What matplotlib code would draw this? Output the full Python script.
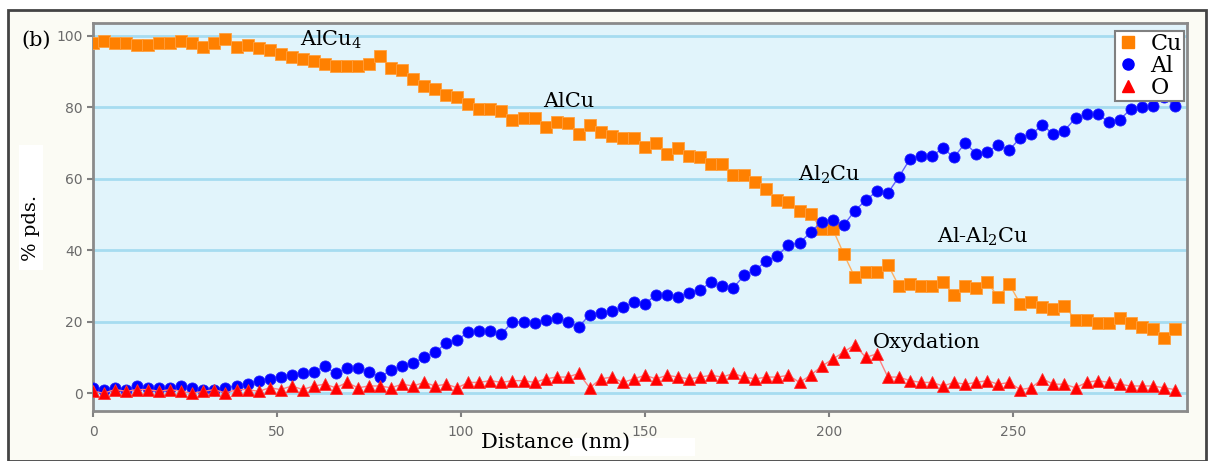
import numpy as np
import matplotlib
matplotlib.use("Agg")
import matplotlib.pyplot as plt
from matplotlib.patches import Rectangle
from matplotlib.lines import Line2D

# Profil EDS le long de la ligne (distance en nm, % pds.)
distance = [0, 3, 6, 9, 12, 15, 18, 21, 24, 27,
            30, 33, 36, 39, 42, 45, 48, 51, 54, 57,
            60, 63, 66, 69, 72, 75, 78, 81, 84, 87,
            90, 93, 96, 99, 102, 105, 108, 111, 114, 117,
            120, 123, 126, 129, 132, 135, 138, 141, 144, 147,
            150, 153, 156, 159, 162, 165, 168, 171, 174, 177,
            180, 183, 186, 189, 192, 195, 198, 201, 204, 207,
            210, 213, 216, 219, 222, 225, 228, 231, 234, 237,
            240, 243, 246, 249, 252, 255, 258, 261, 264, 267,
            270, 273, 276, 279, 282, 285, 288, 291, 294]

cu = [98, 98.5, 98, 98, 97.5, 97.5, 98, 98, 98.5, 98,
      97, 98, 99, 97, 97.5, 96.5, 96, 95, 94, 93.5,
      93, 92, 91.5, 91.5, 91.5, 92, 94.5, 91, 90.5, 88,
      86, 85, 83.5, 83, 81, 79.5, 79.5, 79, 76.5, 77,
      77, 74.5, 76, 75.5, 72.5, 75, 73, 72, 71.5, 71.5,
      69, 70, 67, 68.5, 66.5, 66, 64, 64, 61, 61,
      59, 57, 54, 53.5, 51, 50, 46, 46, 39, 32.5,
      34, 34, 36, 30, 30.5, 30, 30, 31, 27.5, 30,
      29.5, 31, 27, 30.5, 25, 25.5, 24, 23.5, 24.5, 20.5,
      20.5, 19.5, 19.5, 21, 19.5, 18.5, 18, 15.5, 18]

al = [1.5, 1, 1.5, 1, 2, 1.5, 1.5, 1.5, 2, 1.5,
      1, 1, 1.5, 2, 2.5, 3.5, 4, 4.5, 5, 5.5,
      6, 7.5, 5.5, 7, 7, 6, 4.5, 6.5, 7.5, 8.5,
      10, 11.5, 14, 15, 17, 17.5, 17.5, 16.5, 20, 20,
      19.5, 20.5, 21, 20, 18.5, 22, 22.5, 23, 24, 25.5,
      25, 27.5, 27.5, 27, 28, 29, 31, 30, 29.5, 33,
      34.5, 37, 38.5, 41.5, 42, 45, 48, 48.5, 47, 51,
      54, 56.5, 56, 60.5, 65.5, 66.5, 66.5, 68.5, 66, 70,
      67, 67.5, 69.5, 68, 71.5, 72.5, 75, 72.5, 73.5, 77,
      78, 78, 76, 76.5, 79.5, 80, 80.5, 83, 80.5]

ox = [0.5, 0, 1, 0.5, 1, 1, 0.5, 1, 0.5, 0,
      0.5, 1, 0, 1, 1, 0.5, 1.5, 1, 2, 1,
      2, 2.5, 1.5, 3, 1.5, 2, 2, 1.5, 2.5, 2,
      3, 2, 2.5, 1.5, 3, 3, 3.5, 3, 3.5, 3.5,
      3, 4, 4.5, 4.5, 5.5, 1.5, 4, 4.5, 3, 4,
      5, 4, 5, 4.5, 4, 4.5, 5, 4.5, 5.5, 4.5,
      4, 4.5, 4.5, 5, 3, 5, 7.5, 9.5, 11.5, 13.5,
      10, 11, 4.5, 4.5, 3.5, 3, 3, 2, 3, 2.5,
      3, 3.5, 2.5, 3, 1, 1.5, 4, 2.5, 2.5, 1.5,
      3, 3.5, 3, 2.5, 2, 2, 2, 1.5, 1]

series_names = ['Cu', 'Al', 'O']
phase_labels = ['AlCu$_4$', 'AlCu', 'Al$_2$Cu', 'Al-Al$_2$Cu', 'Oxydation']
phase_x = [56.3, 122.3, 191.6, 229.3, 212]
phase_y = [97.3, 80, 59.6, 42.2, 12.6]

plt.rcParams['mathtext.fontset'] = 'dejavuserif'
W, H = 1214, 461
fig = plt.figure(figsize=(W / 100, H / 100), dpi=100, facecolor='white')

# cadre exterieur et taches blanches de l'image d'origine
fig.add_artist(Rectangle((8 / W, 0), 1198 / W, 1 - 10 / H, transform=fig.transFigure,
                         facecolor='#fbfbf4', edgecolor='#444444', linewidth=2, zorder=-10))
fig.add_artist(Rectangle((19 / W, 1 - 270 / H), 24 / W, 125 / H, transform=fig.transFigure,
                         facecolor='white', edgecolor='none', zorder=-5))
fig.add_artist(Rectangle((570 / W, 1 - 456 / H), 125 / W, 18 / H, transform=fig.transFigure,
                         facecolor='white', edgecolor='none', zorder=-5))

ax = fig.add_axes([93 / W, 1 - 411 / H, (1187 - 93) / W, (411 - 23) / H])
ax.set_facecolor('#e1f4fb')
ax.set_xlim(0, 297.3)
ax.set_ylim(-5, 103.6)

ax.plot(distance, cu, color='#ffb060', lw=1, marker='s', ms=9.3,
        mfc='#ff8000', mec='#ffa040', mew=0.6, zorder=3)
ax.plot(distance, al, color='#6060ff', lw=1, marker='o', ms=8,
        mfc='#0000ff', mec='#2020ff', mew=0.6, zorder=4)
ax.plot(distance, ox, color='#ff8080', lw=1, marker='^', ms=8.8,
        mfc='#ff0000', mec='#ff3030', mew=0.6, zorder=5)

ax.set_yticks([0, 20, 40, 60, 80, 100])
ax.set_xticks([0, 50, 100, 150, 200, 250])
ax.grid(axis='y', color='#a6dcf0', lw=2, zorder=1)
ax.set_axisbelow(True)
for s in ax.spines.values():
    s.set_color('#8a8a8a')
    s.set_linewidth(2)
ax.tick_params(colors='#808080', labelcolor='#6a6a6a', labelsize=10, length=4, width=1.5)
ax.tick_params(axis='x', pad=6)

for lab, x, y in zip(phase_labels, phase_x, phase_y):
    ax.text(x, y, lab, family='DejaVu Serif', fontsize=15, ha='left', va='baseline', zorder=6)

handles = [Line2D([], [], ls='none', marker='s', ms=9, color='#ff8000'),
           Line2D([], [], ls='none', marker='o', ms=8, color='#0000ff'),
           Line2D([], [], ls='none', marker='^', ms=9, color='#ff0000')]
leg = fig.legend(handles, series_names, loc='upper left',
                 bbox_to_anchor=(1115 / W, 1 - 31 / H),
                 prop={'family': 'DejaVu Serif', 'size': 16},
                 frameon=True, fancybox=False, edgecolor='#808080', facecolor='white',
                 framealpha=1, borderpad=0.1, labelspacing=0.0, handlelength=1.0,
                 handletextpad=0.5, borderaxespad=0)
leg.get_frame().set_linewidth(1.5)

fig.text(36 / W, 1 - 40 / H, '(b)', family='DejaVu Serif', fontsize=15, ha='center', va='center')
fig.text(31 / W, 1 - 228 / H, '% pds.', family='DejaVu Serif', fontsize=14, rotation=90,
         ha='center', va='center')
fig.text(556 / W, 1 - 442 / H, 'Distance (nm)', family='DejaVu Serif', fontsize=15,
         ha='center', va='center')

fig.savefig('out.png', dpi=100, facecolor=fig.get_facecolor())
